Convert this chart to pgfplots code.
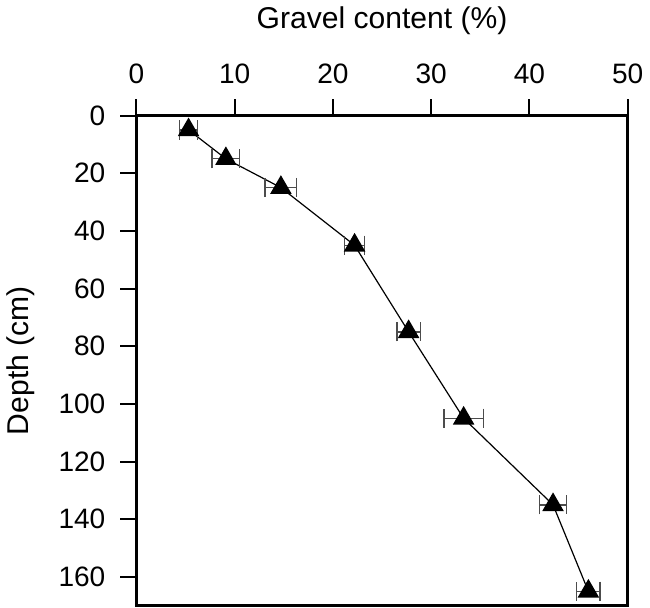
\documentclass[border=0pt]{standalone}
\usepackage{fontspec}
\setmainfont{Liberation Sans}
\usepackage{pgfplots}
\pgfplotsset{compat=1.18}
\begin{document}
\begin{tikzpicture}
\begin{axis}[
    width=245pt, height=244.5pt,
    scale only axis,
    xmin=0, xmax=50,
    ymin=0, ymax=170,
    y dir=reverse,
    xtick={0,10,20,30,40,50},
    ytick={0,20,40,60,80,100,120,140,160},
    xtick pos=right, xticklabel pos=right,
    ytick pos=left,
    tick align=outside,
    major tick length=8pt,
    every tick/.style={black, line width=1pt},
    axis line style={line width=1.3pt},
    /pgf/number format/assume math mode=true,
    font=\fontsize{15}{17}\selectfont,
    tick label style={font=\fontsize{14}{16}\selectfont},
    xlabel={Gravel content (\%)},
    ylabel={Depth (cm)},
    xlabel style={yshift=7.5pt},
    ylabel style={yshift=5pt},
    xticklabel style={yshift=4.5pt},
    yticklabel style={xshift=-4pt},
    clip=false,
]
\addplot[black, line width=0.6pt,
    mark=triangle*, mark size=5.6pt,
    mark options={solid, fill=black},
    error bars/.cd, x dir=both, x explicit,
    error mark=|,
    error bar style={black!70, line width=0.7pt},
    error mark options={black!70, line width=0.7pt, mark size=4.8pt}]
coordinates {
(5.3,5) +- (0.9,0)
(9.1,15) +- (1.4,0)
(14.7,25) +- (1.6,0)
(22.2,45) +- (1.0,0)
(27.7,75) +- (1.2,0)
(33.3,105) +- (2.0,0)
(42.4,135) +- (1.4,0)
(46.0,165) +- (1.2,0)
};
\end{axis}
\end{tikzpicture}
\end{document}
